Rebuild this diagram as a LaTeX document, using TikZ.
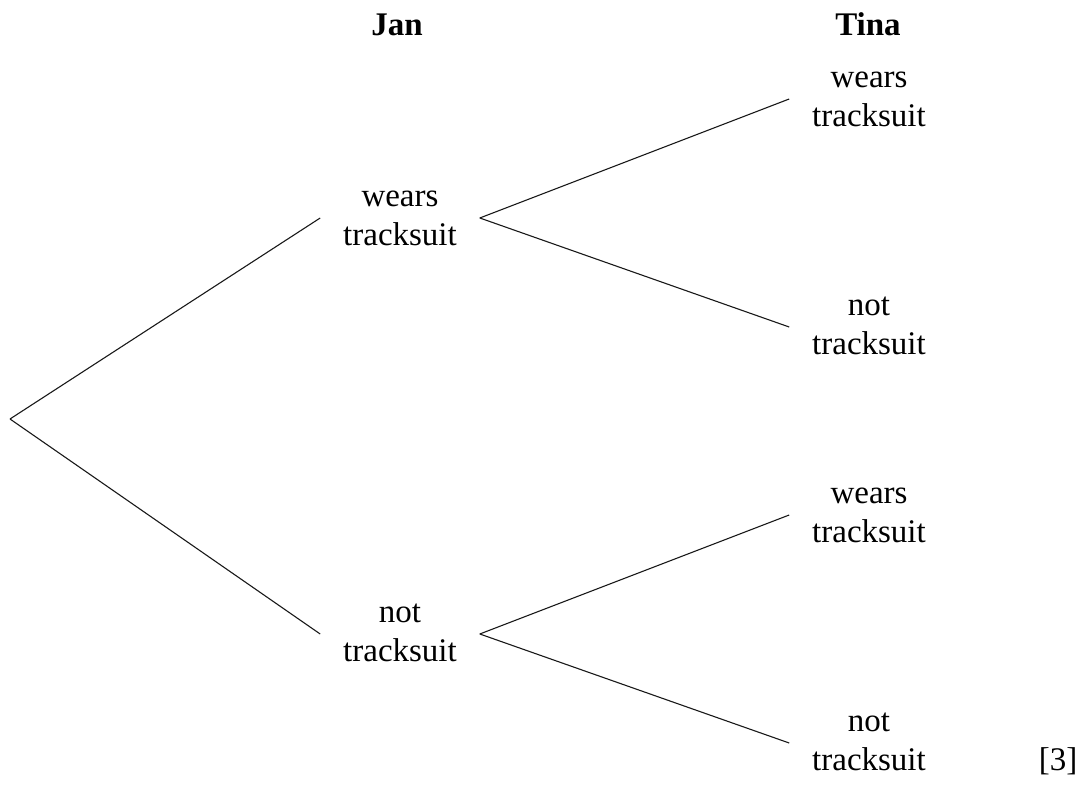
\documentclass[tikz,border=0pt]{standalone}
\usepackage{fontspec}
\setmainfont{Liberation Serif}
\begin{document}
\begin{tikzpicture}[x=0.5pt,y=-0.5pt,
  lbl/.style={align=center,inner xsep=11.5pt,inner ysep=0pt,outer sep=0pt,
    font=\fontsize{16.5pt}{19.5pt}\selectfont},
  hdr/.style={anchor=base,inner sep=0pt,font=\fontsize{16.5pt}{19.5pt}\selectfont\bfseries},
  br/.style={line width=0.55pt,black!90}]
\useasboundingbox (0,0) rectangle (1089,791);
\coordinate (root) at (10,419);
\node[lbl] (j1) at (400,218) {\strut wears\\tracksuit\strut};
\node[lbl] (j2) at (400,634) {\strut not\\tracksuit\strut};
\node[lbl] (t1) at (869,99) {\strut wears\\tracksuit\strut};
\node[lbl] (t2) at (869,327) {\strut not\\tracksuit\strut};
\node[lbl] (t3) at (869,515) {\strut wears\\tracksuit\strut};
\node[lbl] (t4) at (869,743) {\strut not\\tracksuit\strut};
\node[hdr] (hj) at (397,36) {Jan};
\node[hdr] (ht) at (868,36) {Tina};
\node[anchor=base,inner sep=0pt,font=\fontsize{16.5pt}{19.5pt}\selectfont] (mk) at (1058,770) {[3]};
\draw[br] (root) -- (j1.west);
\draw[br] (root) -- (j2.west);
\draw[br] (j1.east) -- (t1.west);
\draw[br] (j1.east) -- (t2.west);
\draw[br] (j2.east) -- (t3.west);
\draw[br] (j2.east) -- (t4.west);
\end{tikzpicture}
\end{document}
